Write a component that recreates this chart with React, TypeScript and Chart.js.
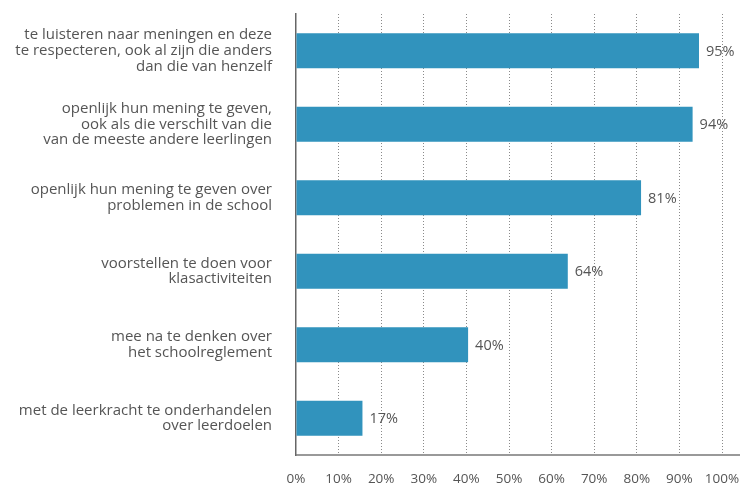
import React, { useEffect, useRef } from "react";
import { Chart, registerables } from "chart.js";

Chart.register(...registerables);

const categories: string[][] = [
  ["te luisteren naar meningen en deze", "te respecteren, ook al zijn die anders", "dan die van henzelf"],
  ["openlijk hun mening te geven,", "ook als die verschilt van die", "van de meeste andere leerlingen"],
  ["openlijk hun mening te geven over", "problemen in de school"],
  ["voorstellen te doen voor", "klasactiviteiten"],
  ["mee na te denken over", "het schoolreglement"],
  ["met de leerkracht te onderhandelen", "over leerdoelen"],
];
// bar lengths as drawn in the picture
const values: number[] = [94.6, 93.1, 81, 63.8, 40.4, 15.6];
// printed value labels
const valueLabels: string[] = ["95%", "94%", "81%", "64%", "40%", "17%"];
const xTicks: number[] = [0, 10, 20, 30, 40, 50, 60, 70, 80, 90, 100];

const FONT = "'Open Sans', sans-serif";
const TEXT = "#555555";

const labelPlugin = {
  id: "valueLabels",
  afterDatasetsDraw(chart: any) {
    const ctx = chart.ctx;
    const meta = chart.getDatasetMeta(0);
    ctx.save();
    ctx.font = `14.5px ${FONT}`;
    ctx.fillStyle = TEXT;
    ctx.textAlign = "left";
    ctx.textBaseline = "middle";
    meta.data.forEach((bar: any, i: number) => {
      ctx.fillText(valueLabels[i], bar.x + 7, bar.y + 1);
    });
    const area = chart.chartArea;
    ctx.strokeStyle = "#777777";
    ctx.lineWidth = 1.5;
    ctx.beginPath();
    ctx.moveTo(area.left, area.bottom);
    ctx.lineTo(chart.width, area.bottom);
    ctx.stroke();
    ctx.restore();
  },
};

export default function App() {
  const ref = useRef<HTMLCanvasElement>(null);
  useEffect(() => {
    document.body.style.margin = "0";
    const chart = new Chart(ref.current!, {
      type: "bar",
      data: {
        labels: categories,
        datasets: [
          {
            data: values,
            backgroundColor: "#3193bd",
            barPercentage: 0.95,
            categoryPercentage: 0.5,
          },
        ],
      },
      plugins: [labelPlugin],
      options: {
        indexAxis: "y",
        animation: false,
        responsive: false,
        maintainAspectRatio: false,
        layout: { padding: { top: 14, right: 18, left: 0, bottom: 0 } },
        plugins: { legend: { display: false }, tooltip: { enabled: false } },
        scales: {
          x: {
            min: 0,
            max: 100,
            afterBuildTicks: (scale: any) => {
              scale.ticks = xTicks.map((v) => ({ value: v }));
            },
            afterFit: (scale: any) => {
              scale.height = 30;
              scale.paddingLeft = 0;
              scale.paddingRight = 0;
            },
            border: { display: false, dash: [1, 2] },
            grid: {
              color: (c: any) => (c.tick && c.tick.value === 0 ? "rgba(0,0,0,0)" : "#8a8a8a"),
              lineWidth: 1,
              drawTicks: false,
            },
            ticks: {
              callback: (v: any) => v + "%",
              color: TEXT,
              font: { family: FONT, size: 13.5 },
              padding: 16,
              maxRotation: 0,
              autoSkip: false,
            },
          },
          y: {
            afterFit: (scale: any) => {
              scale.width = 296;
              scale.paddingTop = 0;
              scale.paddingBottom = 0;
            },
            border: { display: true, color: "#666666", width: 1.5 },
            grid: { display: false, drawTicks: false },
            ticks: {
              color: TEXT,
              font: { family: FONT, size: 15, lineHeight: 1.05 },
              padding: 24,
              autoSkip: false,
            },
          },
        },
      },
    } as any);
    return () => chart.destroy();
  }, []);
  return (
    <div style={{ width: 740, height: 485 }}>
      <canvas ref={ref} width={740} height={485} style={{ display: "block" }} />
    </div>
  );
}
